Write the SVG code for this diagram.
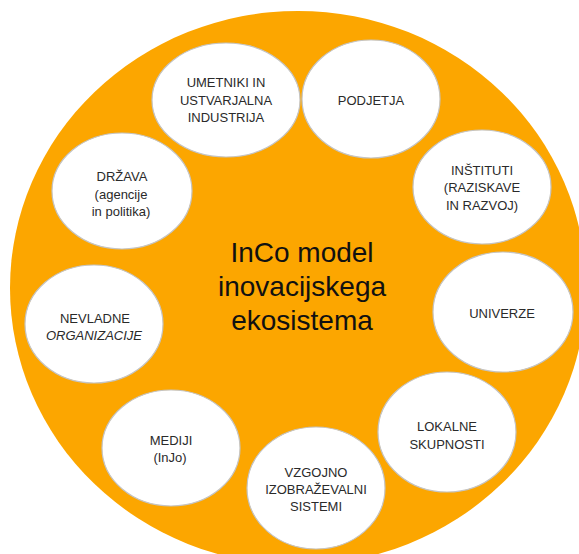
<svg xmlns="http://www.w3.org/2000/svg" width="579" height="554" viewBox="0 0 579 554">
<style>
.bg{fill:#FCA600}
.node ellipse{fill:#ffffff;stroke:#c4c4c4;stroke-width:1.2}
.lbl{font-family:"Liberation Sans",Arial,sans-serif;font-size:13px;fill:#2a2a2a;text-anchor:middle}
.title{font-family:"Liberation Sans",Arial,sans-serif;font-size:28px;fill:#111111;text-anchor:middle}
</style>
<rect width="579" height="554" fill="#ffffff"/>
<ellipse class="bg" cx="298" cy="288" rx="288" ry="277"/>
<g id="connectors"/>
<g id="center">
<text class="title" x="302" y="262">InCo model</text>
<text class="title" x="302" y="296">inovacijskega</text>
<text class="title" x="302" y="330">ekosistema</text>
</g>
<g id="umetniki" class="node">
<ellipse cx="226" cy="100" rx="74" ry="57"/>
<text class="lbl" x="226" y="87">UMETNIKI IN</text>
<text class="lbl" x="226" y="105">USTVARJALNA</text>
<text class="lbl" x="226" y="122">INDUSTRIJA</text>
</g>
<g id="podjetja" class="node">
<ellipse cx="371" cy="99" rx="69" ry="59"/>
<text class="lbl" x="371" y="105">PODJETJA</text>
</g>
<g id="instituti" class="node">
<ellipse cx="482" cy="187" rx="69" ry="57"/>
<text class="lbl" x="482" y="175">INŠTITUTI</text>
<text class="lbl" x="482" y="192">(RAZISKAVE</text>
<text class="lbl" x="482" y="210">IN RAZVOJ)</text>
</g>
<g id="univerze" class="node">
<ellipse cx="503" cy="312" rx="70" ry="60"/>
<text class="lbl" x="502" y="318">UNIVERZE</text>
</g>
<g id="lokalne" class="node">
<ellipse cx="447" cy="432" rx="69" ry="60"/>
<text class="lbl" x="447" y="431">LOKALNE</text>
<text class="lbl" x="447" y="449">SKUPNOSTI</text>
</g>
<g id="vzgojno" class="node">
<ellipse cx="316" cy="488" rx="69" ry="61"/>
<text class="lbl" x="316" y="477">VZGOJNO</text>
<text class="lbl" x="316" y="494">IZOBRAŽEVALNI</text>
<text class="lbl" x="316" y="511">SISTEMI</text>
</g>
<g id="mediji" class="node">
<ellipse cx="171" cy="448" rx="69" ry="58"/>
<text class="lbl" x="171" y="445">MEDIJI</text>
<text class="lbl" x="170" y="462">(InJo)</text>
</g>
<g id="nevladne" class="node">
<ellipse cx="94" cy="324" rx="69" ry="59"/>
<text class="lbl" x="95" y="323">NEVLADNE</text>
<text class="lbl" x="94" y="340" font-style="italic">ORGANIZACIJE</text>
</g>
<g id="drzava" class="node">
<ellipse cx="122" cy="191" rx="70" ry="58"/>
<text class="lbl" x="122" y="181">DRŽAVA</text>
<text class="lbl" x="121" y="199">(agencije</text>
<text class="lbl" x="121" y="216">in politika)</text>
</g>
</svg>
